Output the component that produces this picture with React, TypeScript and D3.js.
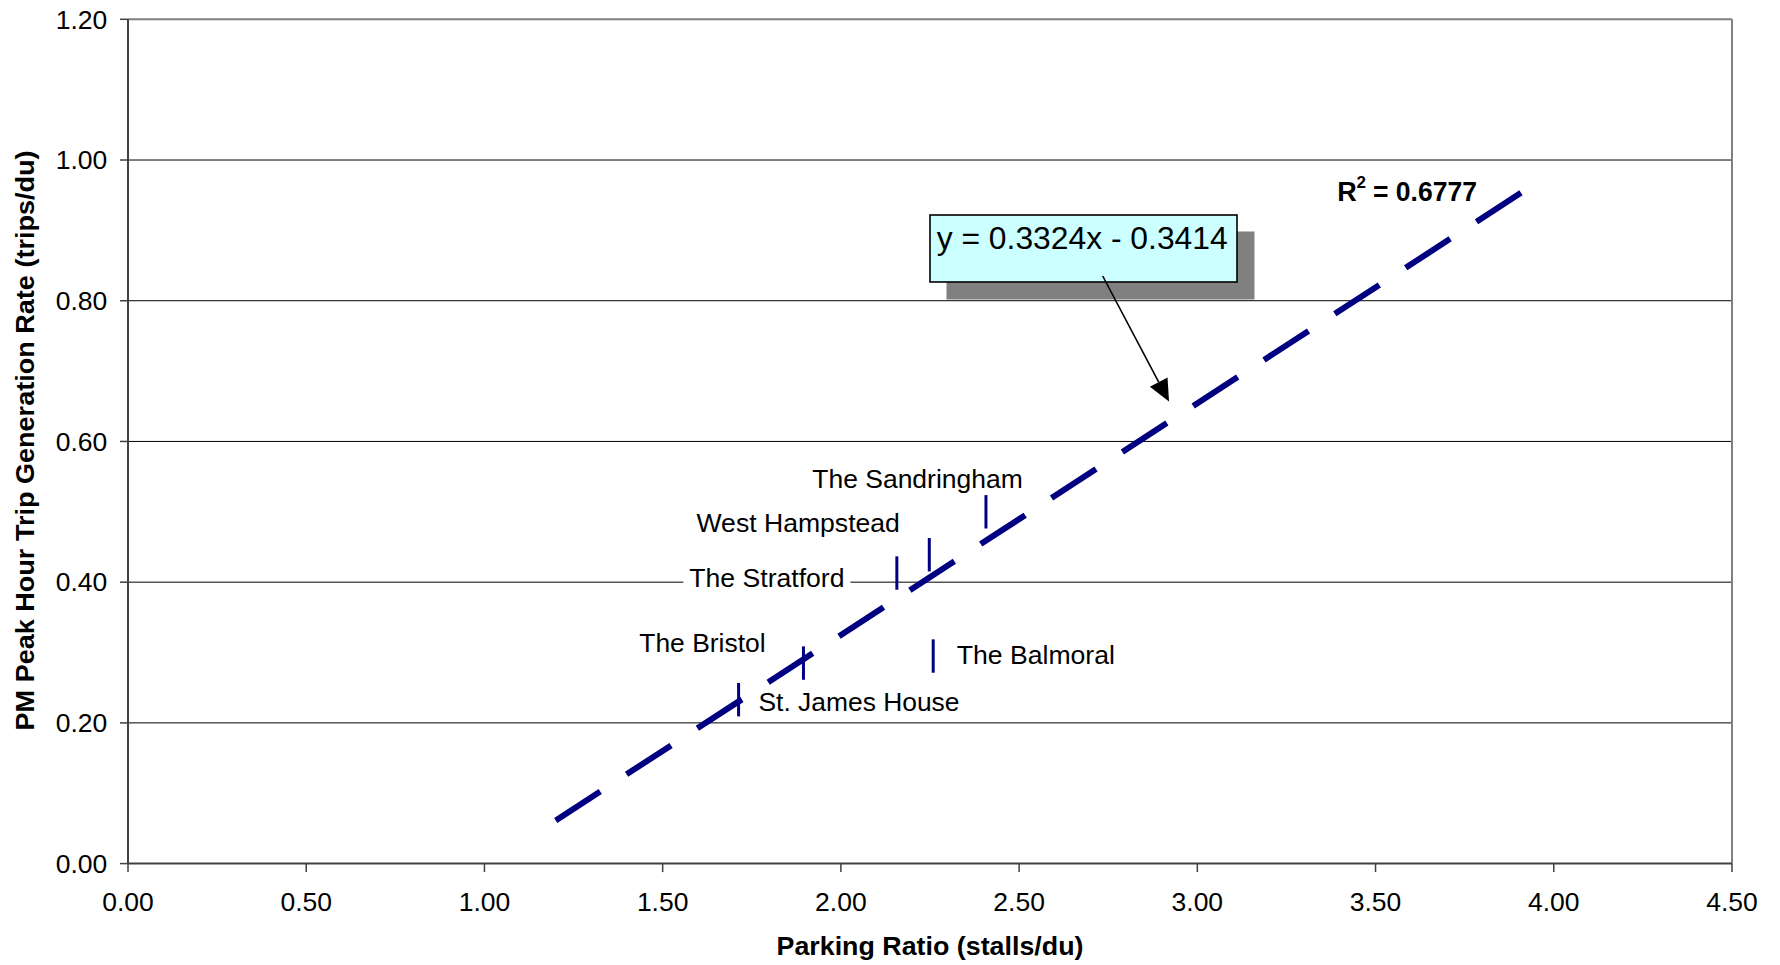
import React from "react";
import * as d3 from "d3";

// ---------- data ----------
const siteNames = [
  "St. James House",
  "The Bristol",
  "The Stratford",
  "West Hampstead",
  "The Sandringham",
  "The Balmoral",
];
const parkingRatio = [1.713, 1.895, 2.157, 2.248, 2.407, 2.259];
const tripRate = [0.233, 0.285, 0.413, 0.439, 0.5, 0.295];

const xTickValues = [0, 0.5, 1, 1.5, 2, 2.5, 3, 3.5, 4, 4.5];
const yTickValues = [0, 0.2, 0.4, 0.6, 0.8, 1.0, 1.2];

const trendX = [1.2, 3.908];
const trendY = [0.0614, 0.9534];

const equationText = "y = 0.3324x - 0.3414";
const r2Text = "0.6777";
const xTitle = "Parking Ratio (stalls/du)";
const yTitle = "PM Peak Hour Trip Generation Rate (trips/du)";

// ---------- layout ----------
const W = 1780;
const H = 965;
const plot = { left: 128, right: 1732, top: 19.3, bottom: 863.6 };
const FONT = "'Liberation Sans', Arial, Helvetica, sans-serif";
const NAVY = "#000080";

const labelLayout: Record<string, { anchor: "start" | "end"; dx: number; dy: number; w: number; bg?: boolean }> = {
  "St. James House": { anchor: "start", dx: 19.9, dy: 11, w: 201 },
  "The Bristol": { anchor: "end", dx: -37.9, dy: -10.8, w: 126.3 },
  "The Stratford": { anchor: "end", dx: -52.4, dy: 13.7, w: 155.1, bg: true },
  "West Hampstead": { anchor: "end", dx: -29.4, dy: -23, w: 203.4 },
  "The Sandringham": { anchor: "end", dx: 36.8, dy: -23.5, w: 210.5 },
  "The Balmoral": { anchor: "start", dx: 23.5, dy: 8.3, w: 158.2 },
};

export default function App() {
  const x = d3.scaleLinear().domain([0, 4.5]).range([plot.left, plot.right]);
  const y = d3.scaleLinear().domain([0, 1.2]).range([plot.bottom, plot.top]);

  const points = siteNames.map((name, i) => ({ name, px: x(parkingRatio[i]), py: y(tripRate[i]) }));

  const tx0 = x(trendX[0]);
  const tx1 = x(trendX[1]);
  const ty0 = y(trendY[0]);
  const ty1 = y(trendY[1]);
  const slope = (ty1 - ty0) / (tx1 - tx0);
  const k = Math.sqrt(1 + slope * slope);
  const dashX = 44.5;
  const periodX = (tx1 - tx0 - dashX) / 13;
  const dashArray = `${dashX * k} ${(periodX - dashX) * k}`;
  const trendPath = d3.line<number>()((trendX.map((v, i) => [x(v), y(trendY[i])]) as any)) || "";

  const markerHalf = 16.7;

  const box = { x: 930, y: 215, w: 307, h: 67 };
  const arrowStart = { x: 1102.7, y: 276 };
  const arrowTip = { x: 1169, y: 401.5 };
  const ang = Math.atan2(arrowTip.y - arrowStart.y, arrowTip.x - arrowStart.x);
  const headLen = 22;
  const headHalf = 10;
  const bx = arrowTip.x - headLen * Math.cos(ang);
  const by = arrowTip.y - headLen * Math.sin(ang);
  const head = [
    [arrowTip.x, arrowTip.y],
    [bx + headHalf * Math.sin(ang), by - headHalf * Math.cos(ang)],
    [bx - headHalf * Math.sin(ang), by + headHalf * Math.cos(ang)],
  ]
    .map((p) => p.join(","))
    .join(" ");

  return (
    <svg
      width={W}
      height={H}
      style={{ position: "absolute", left: 0, top: 0, background: "#fff" }}
      fontFamily={FONT}
    >
      <rect x={0} y={0} width={W} height={H} fill="#fff" />

      {yTickValues
        .filter((v) => v > 0 && v < 1.2)
        .map((v) => (
          <line key={"g" + v} x1={plot.left} x2={plot.right} y1={y(v)} y2={y(v)} stroke="#000" strokeWidth={1} />
        ))}

      <line x1={plot.left} x2={plot.right} y1={plot.top} y2={plot.top} stroke="#808080" strokeWidth={2} />
      <line x1={plot.right} x2={plot.right} y1={plot.top} y2={plot.bottom} stroke="#808080" strokeWidth={2} />

      {points.map((p) => {
        const L = labelLayout[p.name];
        if (!L.bg) return null;
        const tx = p.px + L.dx;
        const x0 = L.anchor === "start" ? tx : tx - L.w;
        return <rect key={"bg" + p.name} x={x0 - 6} y={p.py + L.dy - 22} width={L.w + 12} height={28} fill="#fff" />;
      })}

      <line x1={plot.left} x2={plot.left} y1={plot.top} y2={plot.bottom} stroke="#404040" strokeWidth={2} />
      <line x1={plot.left} x2={plot.right} y1={plot.bottom} y2={plot.bottom} stroke="#404040" strokeWidth={2} />

      {yTickValues.map((v) => (
        <g key={"yt" + v}>
          <line x1={plot.left - 8} x2={plot.left} y1={y(v)} y2={y(v)} stroke="#404040" strokeWidth={1.5} />
          <text x={107.3} y={y(v) + 9.2} textAnchor="end" fontSize={26.5} fill="#000">
            {d3.format(".2f")(v)}
          </text>
        </g>
      ))}

      {xTickValues.map((v) => (
        <g key={"xt" + v}>
          <line x1={x(v)} x2={x(v)} y1={plot.bottom} y2={plot.bottom + 8.5} stroke="#404040" strokeWidth={1.5} />
          <text x={x(v)} y={910.7} textAnchor="middle" fontSize={26.5} fill="#000">
            {d3.format(".2f")(v)}
          </text>
        </g>
      ))}

      <path d={trendPath} fill="none" stroke={NAVY} strokeWidth={6} strokeDasharray={dashArray} strokeLinecap="butt" />

      {points.map((p) => (
        <line
          key={"m" + p.name}
          x1={p.px}
          x2={p.px}
          y1={p.py - markerHalf}
          y2={p.py + markerHalf}
          stroke={NAVY}
          strokeWidth={3}
        />
      ))}

      {points.map((p) => {
        const L = labelLayout[p.name];
        return (
          <text
            key={"l" + p.name}
            x={p.px + L.dx}
            y={p.py + L.dy}
            textAnchor={L.anchor}
            fontSize={26.5}
            textLength={L.w}
            lengthAdjust="spacingAndGlyphs"
            fill="#000"
          >
            {p.name}
          </text>
        );
      })}

      <text x={1337.3} y={200.7} fontSize={27} fontWeight="bold" fill="#000">
        R
      </text>
      <text x={1356.5} y={187.5} fontSize={17} fontWeight="bold" fill="#000">
        2
      </text>
      <text x={1373} y={200.7} fontSize={27} fontWeight="bold" textLength={104} lengthAdjust="spacingAndGlyphs" fill="#000">
        {"= " + r2Text}
      </text>

      <rect x={box.x + 16.5} y={box.y + 16.5} width={box.w + 1} height={box.h + 1} fill="#808080" />
      <rect x={box.x} y={box.y} width={box.w} height={box.h} fill="#CCFFFF" stroke="#000" strokeWidth={1.6} />
      <text
        x={936.7}
        y={248.8}
        fontSize={30.5}
        textLength={291}
        lengthAdjust="spacingAndGlyphs"
        fill="#000"
      >
        {equationText}
      </text>
      <line x1={arrowStart.x} y1={arrowStart.y} x2={bx} y2={by} stroke="#000" strokeWidth={1.6} />
      <polygon points={head} fill="#000" />

      <text
        x={(plot.left + plot.right) / 2}
        y={955}
        textAnchor="middle"
        fontSize={26}
        fontWeight="bold"
        textLength={307}
        lengthAdjust="spacingAndGlyphs"
        fill="#000"
      >
        {xTitle}
      </text>
      <text
        transform={`translate(33.5, ${(plot.top + plot.bottom) / 2 - 1}) rotate(-90)`}
        textAnchor="middle"
        fontSize={26}
        fontWeight="bold"
        textLength={580}
        lengthAdjust="spacingAndGlyphs"
        fill="#000"
      >
        {yTitle}
      </text>
    </svg>
  );
}
